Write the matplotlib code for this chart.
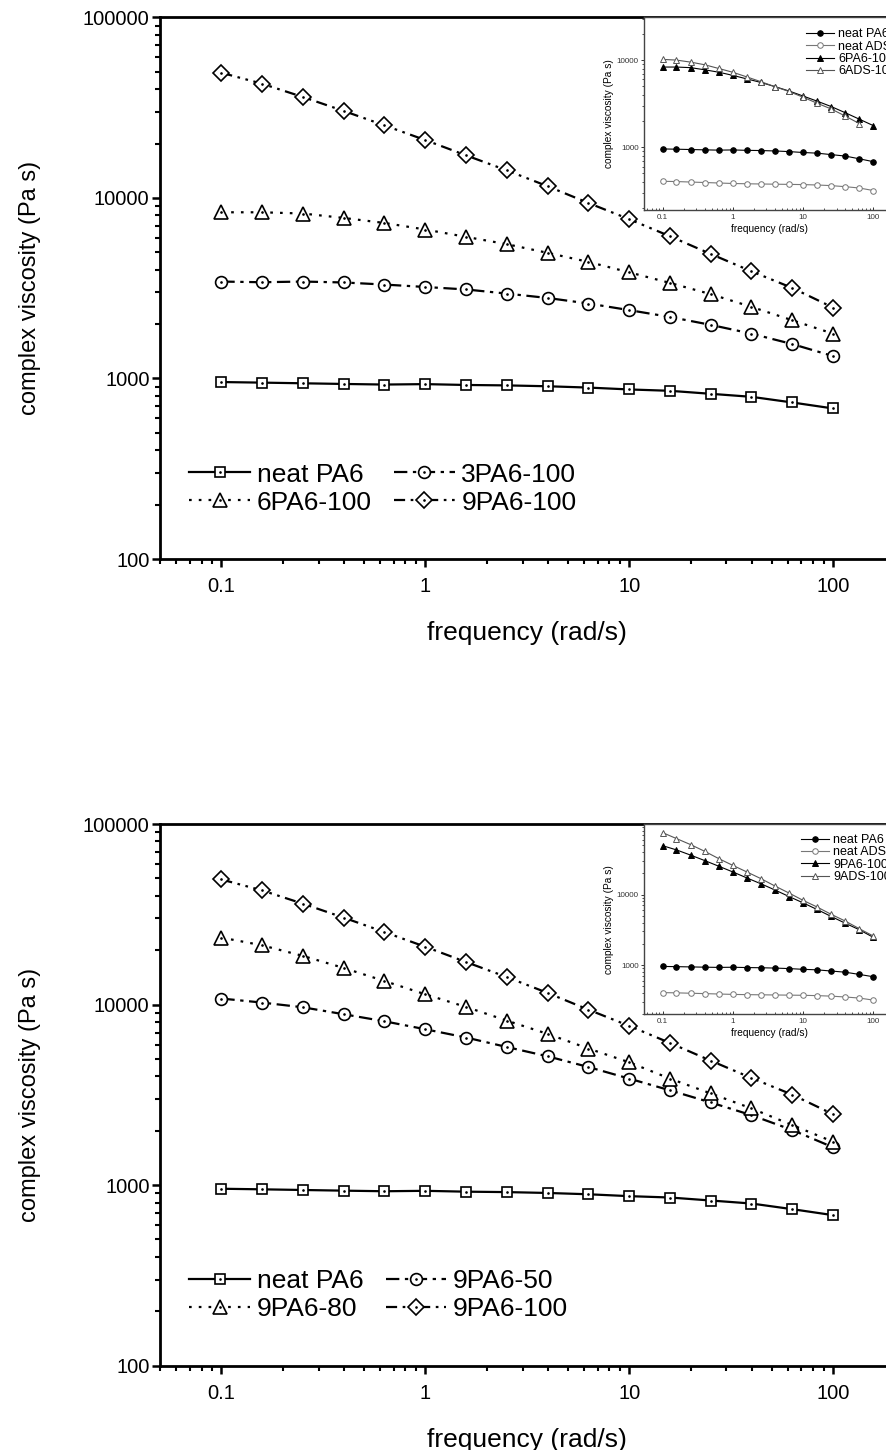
import matplotlib
matplotlib.use("Agg")
import matplotlib.pyplot as plt
from matplotlib.legend_handler import HandlerTuple
from matplotlib.ticker import LogLocator, NullFormatter

plt.rcParams["font.family"] = ["Liberation Sans", "DejaVu Sans"]

# frequency (rad/s), 5 points per decade
FREQ = [0.1, 0.158, 0.251, 0.398, 0.631, 1.0, 1.585, 2.512, 3.981, 6.31,
        10.0, 15.85, 25.12, 39.81, 63.1, 100.0]
FREQ_ADS6 = FREQ[:15]

# complex viscosity (Pa s)
NEAT_PA6 = [955, 948, 940, 932, 925, 930, 920, 915, 905, 890, 869, 854, 822, 791, 736, 682]
PA6_3_100 = [3440, 3410, 3440, 3400, 3310, 3210, 3110, 2950, 2790, 2600, 2390, 2190, 1980, 1770, 1550, 1330]
PA6_6_100 = [8320, 8320, 8190, 7740, 7260, 6680, 6080, 5540, 4960, 4420, 3870, 3380, 2930, 2490, 2100, 1770]
PA6_9_100 = [49300, 42900, 36200, 30300, 25200, 20900, 17200, 14200, 11600, 9370, 7620, 6130, 4890, 3920, 3170, 2470]
PA6_9_50 = [10800, 10260, 9660, 8840, 8080, 7300, 6570, 5820, 5170, 4510, 3890, 3350, 2870, 2440, 2020, 1620]
PA6_9_80 = [23500, 21300, 18600, 15950, 13500, 11400, 9700, 8150, 6880, 5710, 4790, 3890, 3220, 2660, 2150, 1740]

NEAT_ADS = [406, 403, 398, 393, 388, 383, 380, 378, 376, 374, 372, 368, 362, 352, 340, 318]
ADS_6_100 = [10190, 10000, 9480, 8840, 8010, 7250, 6410, 5650, 4950, 4360, 3750, 3200, 2750, 2280, 1870]
ADS_9_100 = [75500, 62100, 51000, 41000, 32300, 25900, 20900, 16800, 13200, 10500, 8270, 6650, 5240, 4210, 3280, 2580]

MAIN_STYLE = {
    "solid": dict(marker="s", ms=7.5, dashes=()),
    "dashdot": dict(marker="o", ms=8.5, dashes=(6, 2.5, 1.5, 2.5)),
    "dot": dict(marker="^", ms=9.5, dashes=(1.2, 3.2)),
    "dashdotdot": dict(marker="D", ms=8.5, dashes=(5, 2.5, 1.2, 2.5, 1.2, 2.5)),
}

FIG_W, FIG_H = 886, 1450


def px_rect(left, top, right, bottom):
    return [left / FIG_W, 1 - bottom / FIG_H, (right - left) / FIG_W, (bottom - top) / FIG_H]


def draw_main(ax, series):
    handles = []
    for label, y, style in series:
        st = MAIN_STYLE[style]
        line, = ax.plot(FREQ, y, color="black", lw=1.6, marker=st["marker"], ms=st["ms"],
                        mfc="white", mec="black", mew=1.2, label=label)
        if st["dashes"]:
            line.set_dashes(st["dashes"])
        dot, = ax.plot(FREQ, y, ls="none", marker=".", ms=1.8, color="black")
        handles.append((line, dot))

    ax.set_xscale("log")
    ax.set_yscale("log")
    ax.set_xlim(0.05, 200)
    ax.set_ylim(100, 100000)
    ax.set_xticks([0.1, 1, 10, 100])
    ax.set_xticklabels(["0.1", "1", "10", "100"])
    ax.set_yticks([100, 1000, 10000, 100000])
    ax.set_yticklabels(["100", "1000", "10000", "100000"])
    ax.xaxis.set_minor_locator(LogLocator(base=10, subs=range(2, 10)))
    ax.yaxis.set_minor_locator(LogLocator(base=10, subs=range(2, 10)))
    ax.xaxis.set_minor_formatter(NullFormatter())
    ax.yaxis.set_minor_formatter(NullFormatter())
    ax.tick_params(which="major", direction="out", length=6, width=1.8, labelsize=14.5)
    ax.tick_params(which="minor", direction="out", length=3.5, width=1.5)
    ax.tick_params(axis="x", which="major", pad=7)
    ax.tick_params(axis="y", which="major", pad=1.5)
    for sp in ax.spines.values():
        sp.set_linewidth(2.0)
    ax.set_xlabel("frequency (rad/s)", fontsize=19, labelpad=18)
    ax.set_ylabel("complex viscosity (Pa s)", fontsize=17, labelpad=30)

    # legend fills column-wise: reorder so rows read like the reference
    order = [0, 2, 1, 3]
    ax.legend([handles[i] for i in order], [series[i][0] for i in order],
              handler_map={tuple: HandlerTuple(ndivide=1, pad=0)},
              ncol=2, frameon=False, fontsize=19, loc="center left",
              bbox_to_anchor=(0.022, 0.13), borderpad=0, handlelength=2.3,
              handletextpad=0.25, columnspacing=0.85, labelspacing=0.15, numpoints=1)


def draw_inset(ax, series, ylim, yticks, legend_xy):
    for label, x, y, marker, filled, color in series:
        ax.plot(x, y, color=color, lw=0.8, marker=marker, ms=4,
                mfc=color if filled else "white", mec=color, mew=0.7, label=label)
    ax.set_xscale("log")
    ax.set_yscale("log")
    ax.set_xlim(0.055, 200)
    ax.set_ylim(*ylim)
    ax.set_xticks([0.1, 1, 10, 100])
    ax.set_xticklabels(["0.1", "1", "10", "100"])
    ax.set_yticks(yticks)
    ax.set_yticklabels([str(v) for v in yticks])
    ax.xaxis.set_minor_locator(LogLocator(base=10, subs=range(2, 10)))
    ax.yaxis.set_minor_locator(LogLocator(base=10, subs=range(2, 10)))
    ax.xaxis.set_minor_formatter(NullFormatter())
    ax.yaxis.set_minor_formatter(NullFormatter())
    ax.tick_params(axis="x", which="both", direction="in", labelsize=5.8, pad=3)
    ax.tick_params(axis="y", which="both", direction="out", labelsize=5.8, pad=1.5)
    ax.tick_params(which="major", length=2.5, width=0.7, colors="#333333")
    ax.tick_params(which="minor", length=1.5, width=0.6, colors="#333333")
    for sp in ax.spines.values():
        sp.set_linewidth(1.0)
        sp.set_color("#444444")
    ax.set_xlabel("frequency (rad/s)", fontsize=7.3, labelpad=2)
    ax.set_ylabel("complex viscosity (Pa s)", fontsize=7.3, labelpad=2)
    ax.legend(loc="upper left", bbox_to_anchor=legend_xy, frameon=False, fontsize=9,
              borderpad=0, handlelength=2.3, handletextpad=0.3, labelspacing=0.03, numpoints=1)


fig = plt.figure(figsize=(FIG_W / 100, FIG_H / 100), dpi=100)

ax1 = fig.add_axes(px_rect(160, 17.3, 894.4, 559))
draw_main(ax1, [
    ("neat PA6", NEAT_PA6, "solid"),
    ("3PA6-100", PA6_3_100, "dashdot"),
    ("6PA6-100", PA6_6_100, "dot"),
    ("9PA6-100", PA6_9_100, "dashdotdot"),
])

ax2 = fig.add_axes(px_rect(160, 824, 894.4, 1365.7))
draw_main(ax2, [
    ("neat PA6", NEAT_PA6, "solid"),
    ("9PA6-50", PA6_9_50, "dashdot"),
    ("9PA6-80", PA6_9_80, "dot"),
    ("9PA6-100", PA6_9_100, "dashdotdot"),
])

ins1 = fig.add_axes(px_rect(644.3, 17.3, 894.4, 210))
draw_inset(ins1, [
    ("neat PA6", FREQ, NEAT_PA6, "o", True, "black"),
    ("neat ADS", FREQ, NEAT_ADS, "o", False, "#777777"),
    ("6PA6-100", FREQ, PA6_6_100, "^", True, "black"),
    ("6ADS-100", FREQ_ADS6, ADS_6_100, "^", False, "#555555"),
], (190, 31000), [1000, 10000], (0.62, 0.975))

ins2 = fig.add_axes(px_rect(644.3, 824, 894.4, 1014.3))
draw_inset(ins2, [
    ("neat PA6", FREQ, NEAT_PA6, "o", True, "black"),
    ("neat ADS", FREQ, NEAT_ADS, "o", False, "#777777"),
    ("9PA6-100", FREQ, PA6_9_100, "^", True, "black"),
    ("9ADS-100", FREQ, ADS_9_100, "^", False, "#555555"),
], (200, 100000), [1000, 10000], (0.60, 0.98))

fig.savefig("out.png", dpi=100)
